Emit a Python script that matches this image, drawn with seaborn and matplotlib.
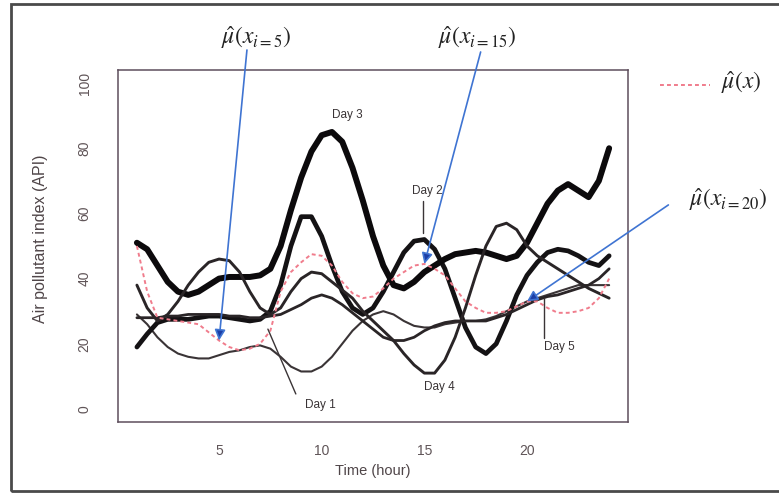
import numpy as np
import pandas as pd
import seaborn as sns
import matplotlib.pyplot as plt
from matplotlib.patches import Rectangle
from matplotlib.lines import Line2D

# half-hour readings (hour 1 .. 24)
hours = np.arange(1, 24.5, 0.5)

day1 = [29, 26, 22, 19, 17, 16, 15.5, 15.5, 16.5, 17.5,
        18, 19, 19.5, 18.5, 16, 13, 11.5, 11.5, 13, 16,
        20, 24, 27, 29, 30, 29, 27, 25.5, 25, 25,
        26, 26.5, 27, 27, 27.5, 28.5, 30, 31.5, 33, 34,
        35, 36, 37, 38, 38, 38, 38]
day2 = [19, 23, 26.5, 27.5, 27.5, 27.5, 28, 28.5, 28.5, 28,
        27.5, 27, 27.5, 30, 38, 50, 59, 59, 53, 44,
        36, 31, 29, 31, 36, 42, 48, 51.5, 52, 49,
        43, 34, 25, 19, 17, 20, 27, 35, 41, 45,
        48, 49, 48.5, 47, 45, 44, 47]
day3 = [51, 49, 44, 39, 36, 35, 36, 38, 40, 40.5,
        40.5, 40.5, 41, 43, 50, 61, 71, 79, 84, 85,
        82, 74, 64, 53, 44, 38, 37, 39, 42, 44,
        46, 47.5, 48, 48.5, 48, 47, 46, 47, 51, 57,
        63, 67, 69, 67, 65, 70, 80]
day4 = [38, 31, 27, 29, 33, 38, 42, 45, 46, 45.5,
        42, 36, 31, 29, 31, 36, 40, 42, 41.5, 39,
        36.5, 34, 30, 27, 24, 21, 17, 13.5, 11, 11,
        15, 22, 31, 41, 50, 56, 57, 55, 50, 47,
        45, 43, 41, 39, 37, 35.5, 34]
day5 = [28, 28, 28, 28.5, 28.5, 29, 29, 29, 29, 28.5,
        28.5, 28, 28, 28.5, 29, 30.5, 32, 34, 35, 34,
        32, 29.5, 27, 24.5, 22, 21, 21, 22, 24, 25.5,
        26.5, 27, 27, 27, 27, 28, 29, 30.5, 32, 33.5,
        34.5, 35, 36, 37, 38, 40, 43]
mean_curve = [50, 36, 28, 27.5, 27, 26.5, 26, 23.5, 21, 19,
              18, 18.5, 20, 24, 36, 42, 45, 47.5, 47, 44,
              39, 35.5, 34, 34.5, 37, 40, 42, 44, 44.5, 43,
              41, 37, 33, 31, 29.5, 29.5, 30, 31.5, 33, 33,
              31, 29.5, 29.5, 30, 31, 34, 40]

days = ['Day 1', 'Day 2', 'Day 3', 'Day 4', 'Day 5']
series = [day1, day2, day3, day4, day5]
marked_hours = [5, 15, 20]

df = pd.DataFrame({
    'hour': np.tile(hours, len(days)),
    'api': np.concatenate(series),
    'day': np.repeat(days, len(hours)),
})

sns.set_style('white')
plt.rcParams['font.family'] = ['Liberation Sans', 'DejaVu Sans']
plt.rcParams['mathtext.fontset'] = 'stix'

fig = plt.figure(figsize=(7.79, 4.95), dpi=100)
ax = fig.add_axes([0.1515, 0.1475, 0.6547, 0.711])

widths = {'Day 1': 1.5, 'Day 2': 3.4, 'Day 3': 4.3, 'Day 4': 2.1, 'Day 5': 2.0}
colors = {'Day 1': '#3a3436', 'Day 2': '#141214', 'Day 3': '#0c0a0c',
          'Day 4': '#2a2527', 'Day 5': '#2a2527'}
for d in days:
    sns.lineplot(data=df[df.day == d], x='hour', y='api', ax=ax, estimator=None,
                 color=colors[d], linewidth=widths[d], legend=False,
                 solid_joinstyle='round', solid_capstyle='round')

pink = '#f07c8c'
sns.lineplot(x=hours, y=mean_curve, ax=ax, estimator=None, color=pink,
             linewidth=1.4, linestyle=(0, (2, 1.6)), legend=False)

ax.set_xlim(0.08, 24.92)
ax.set_ylim(-4, 104)
ax.set_xticks([5, 10, 15, 20])
ax.set_yticks(range(0, 101, 20))
for s in ax.spines.values():
    s.set_color('#5e4e5c')
    s.set_linewidth(1.1)
ax.tick_params(direction='out', length=7, width=0.9, color='#555',
               labelsize=10, labelcolor='#5f5457')
ax.tick_params(axis='x', pad=9)
ax.tick_params(axis='y', pad=12)
for t in ax.get_yticklabels():
    t.set_rotation(90)
    t.set_va('center')
ax.set_xlabel('Time (hour)', fontsize=10.5, color='#4f4548', labelpad=4)
ax.set_ylabel('Air pollutant index (API)', fontsize=11.5, color='#4f4548')
ax.yaxis.set_label_coords(-0.137, 0.52)

# day labels and pointer lines
lab = dict(fontsize=8.5, color='#3a3436', ha='center', va='center')
ax.text(11.26, 90.2, 'Day 3', **lab)
ax.text(15.15, 66.9, 'Day 2', **lab)
ax.plot([14.95, 14.95], [63.8, 54], color='#3a3436', lw=1)
ax.text(9.95, 1.2, 'Day 1', **lab)
ax.plot([8.74, 7.38], [4.6, 24.5], color='#3a3436', lw=1)
ax.text(15.73, 6.7, 'Day 4', **lab)
ax.text(21.6, 19, 'Day 5', **lab)
ax.plot([20.83, 20.83], [21.8, 34], color='#3a3436', lw=1)

# blue arrows to the mean curve
blue = '#3f74d2'
label_pos = [(0.329, 0.925), (0.613, 0.925), (0.935, 0.596)]
tail_pos = [(0.317, 0.899), (0.617, 0.895), (0.858, 0.586)]
texts = [r'$\hat{\mu}(x_{i=5})$', r'$\hat{\mu}(x_{i=15})$', r'$\hat{\mu}(x_{i=20})$']
for h, lp, tp, tx in zip(marked_hours, label_pos, tail_pos, texts):
    yv = mean_curve[list(hours).index(h)]
    ax.annotate('', xy=(h, yv), xycoords='data', xytext=tp,
                textcoords='figure fraction',
                arrowprops=dict(arrowstyle='-|>', color=blue, lw=1.2,
                                mutation_scale=16, shrinkA=0, shrinkB=0,
                                fc='#1c3ea6', ec=blue))
    fig.text(lp[0], lp[1], tx, fontsize=17, color='#222222',
             ha='center', va='center')

# legend entry for the mean curve
fig.add_artist(Line2D([0.847, 0.912], [0.829, 0.829], color=pink, lw=1.4,
                      linestyle=(0, (2, 1.6)), transform=fig.transFigure))
fig.text(0.951, 0.834, r'$\hat{\mu}(x)$', fontsize=17, color='#222222',
         ha='center', va='center')

# scan frame around the whole picture
fig.add_artist(Rectangle((0.014, 0.008), 1.2, 0.984, transform=fig.transFigure,
                         fill=False, ec='#4a4a4a', lw=2))

fig.savefig('out.png', dpi=100)
